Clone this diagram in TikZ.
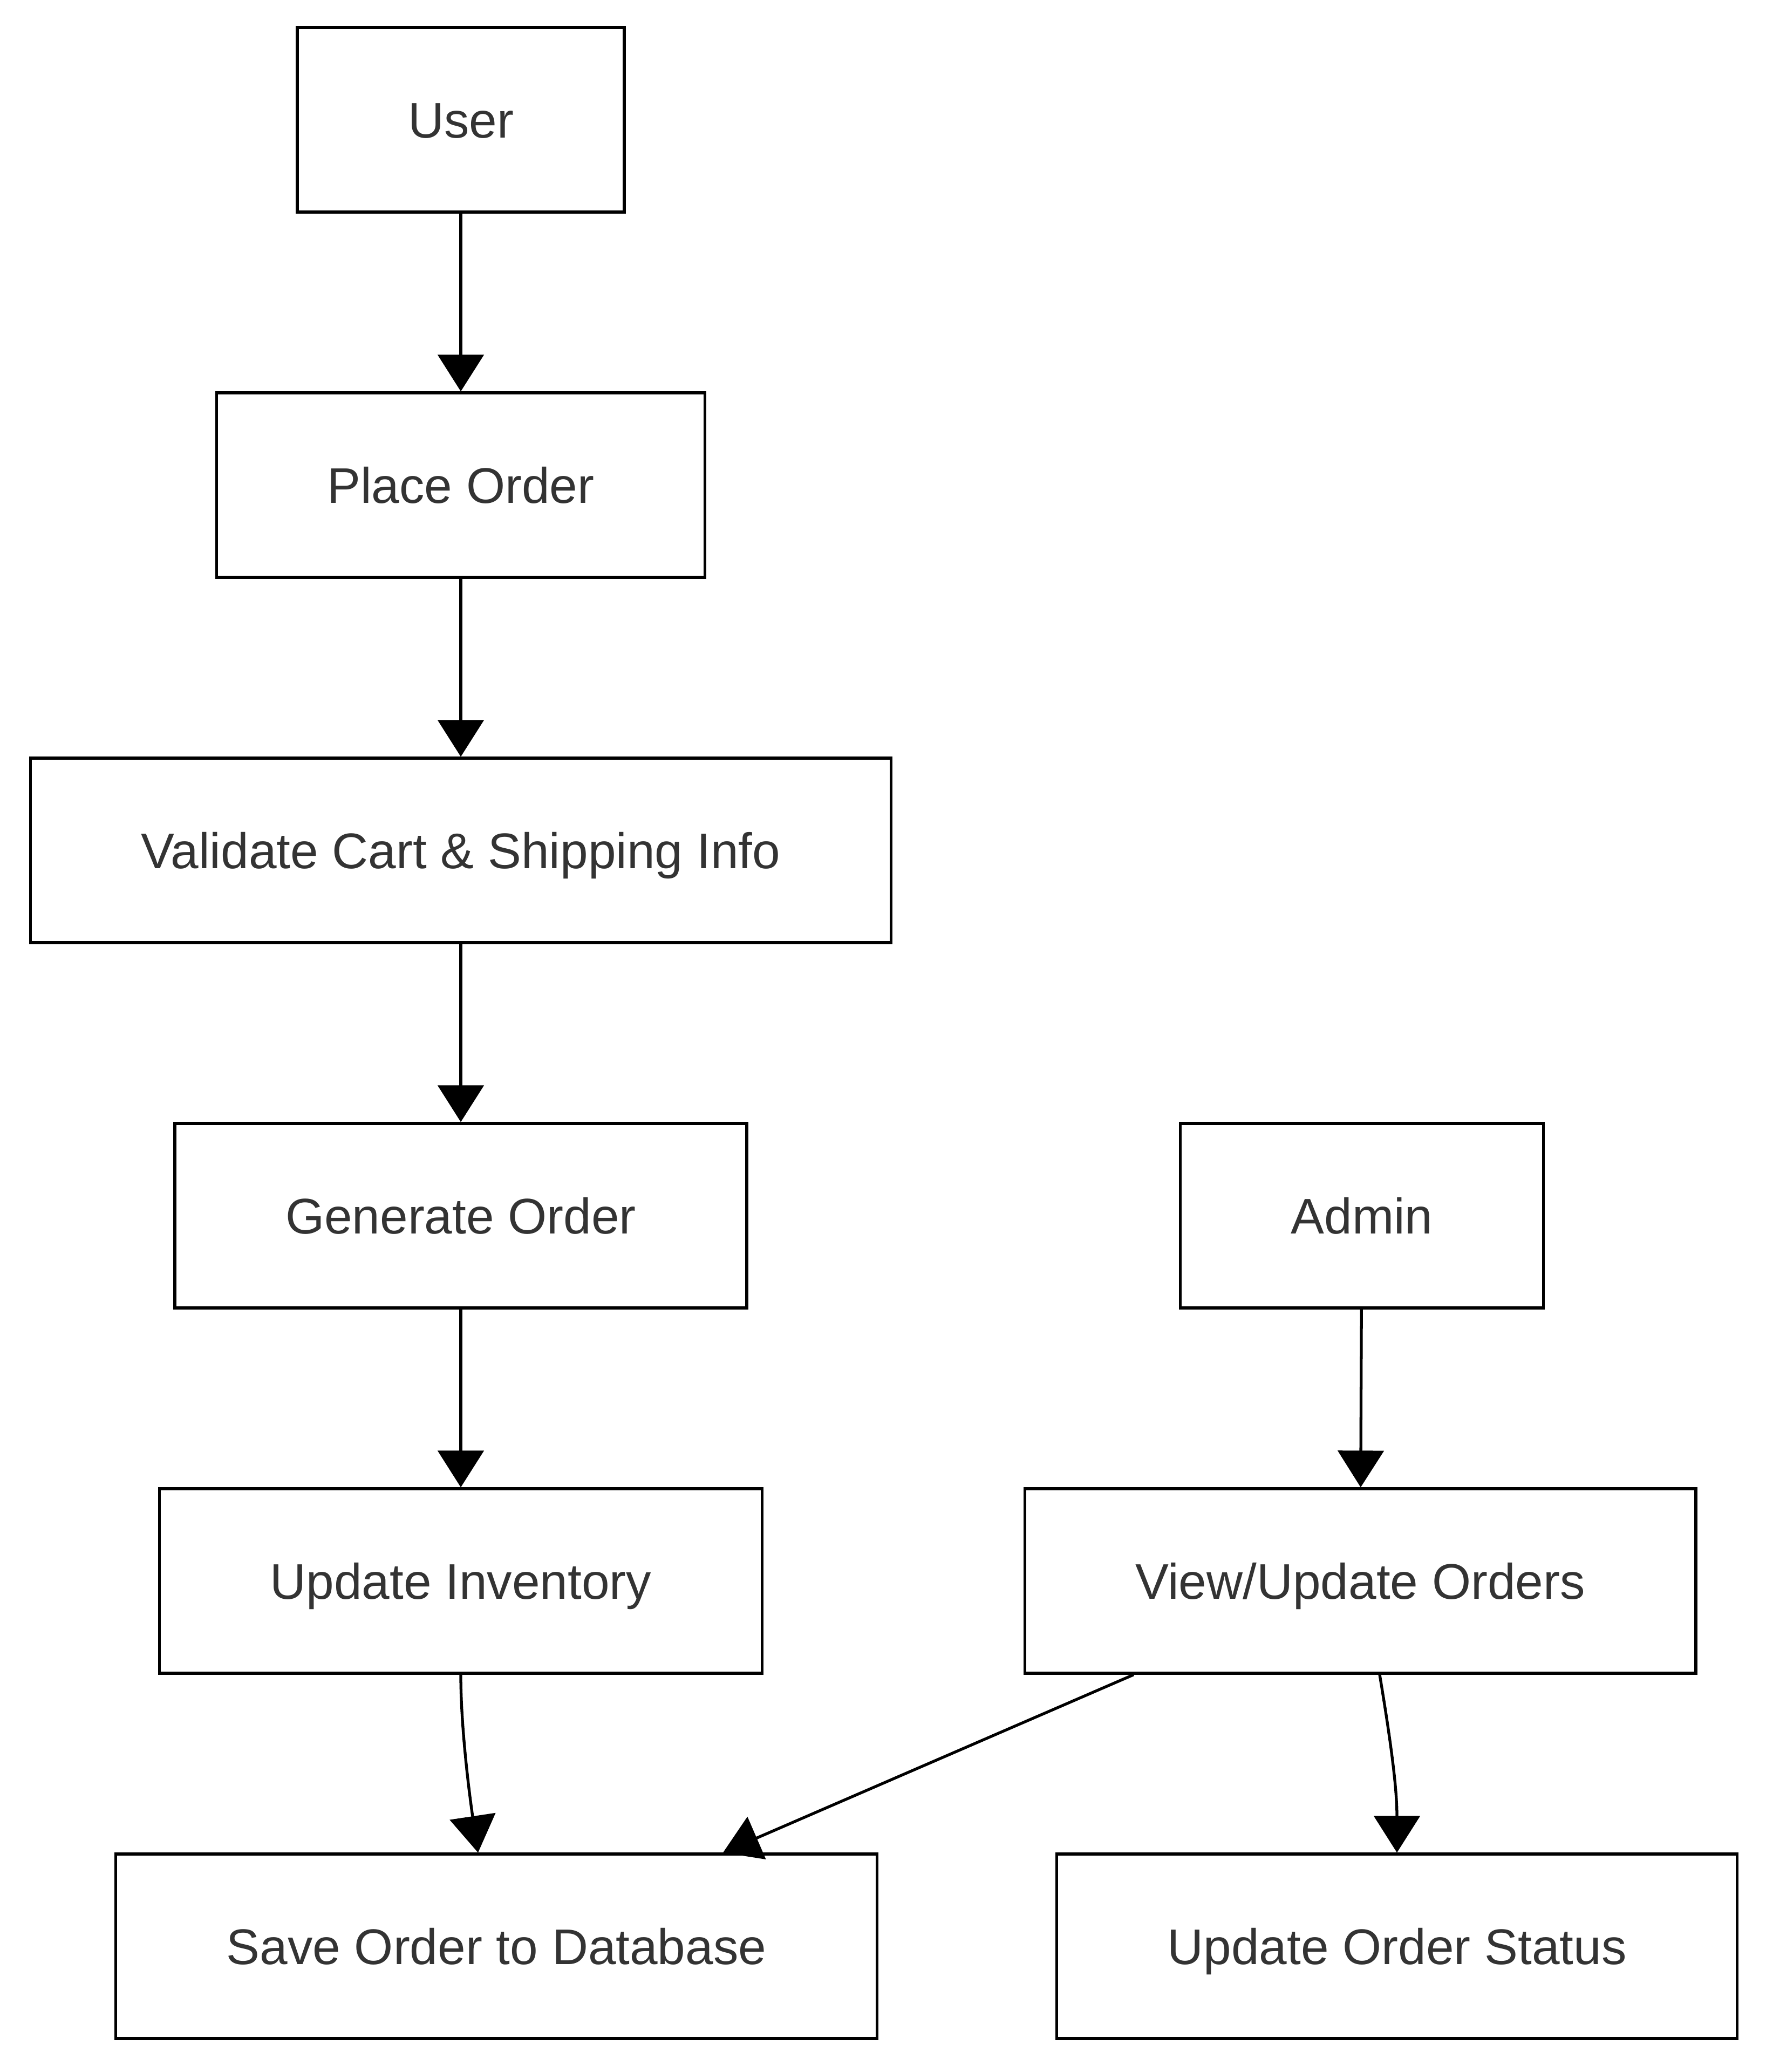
\documentclass[tikz,border=0pt]{standalone}
\usepackage{fontspec}
\setmainfont{Liberation Sans}
\usepackage{tikz}
\usetikzlibrary{calc,arrows.meta,positioning}
\definecolor{flowtext}{HTML}{333333}

\begin{document}
\begin{tikzpicture}[
  flowbox/.style={draw=black, line width=1.5pt, fill=white, text=flowtext,
    font=\fontsize{26.4}{31}\selectfont, inner xsep=2.05cm, inner ysep=0pt,
    text height=0.67cm, text depth=0cm, minimum height=3.42cm},
  flowarrow/.style={draw=black, line width=1.5pt,
    -{Triangle[length=0.68cm, width=0.85cm]}}]
  \useasboundingbox (0,0) rectangle (32.85,-38.4);
  % Order column
  \node[flowbox] (user) at (8.54,-2.22) {User};
  \node[flowbox] (placeorder) at (8.54,-8.99) {Place Order};
  \node[flowbox] (validate) at (8.54,-15.76) {Validate Cart \& Shipping Info};
  \node[flowbox] (genorder) at (8.54,-22.53) {Generate Order};
  \node[flowbox] (inventory) at (8.54,-29.30) {Update Inventory};
  \node[flowbox] (saveorder) at (9.20,-36.07) {Save Order to Database};
  % Admin column
  \node[flowbox] (admin) at (25.24,-22.53) {Admin};
  \node[flowbox] (vieworders) at (25.21,-29.30) {View/Update Orders};
  \node[flowbox] (updstatus) at (25.89,-36.07) {Update Order Status};
  % Edges
  \draw[flowarrow] (user) -- (placeorder);
  \draw[flowarrow] (placeorder) -- (validate);
  \draw[flowarrow] (validate) -- (genorder);
  \draw[flowarrow] (genorder) -- (inventory);
  \draw[flowarrow] (inventory.south) .. controls +(0,-1.1) and +(-0.12,0.8)
    .. ($(saveorder.north)+(-0.34,0)$);
  \draw[flowarrow] (admin) -- (vieworders);
  \draw[flowarrow] ($(vieworders.south)+(-4.2,0)$) -- ($(saveorder.north)+(4.2,0)$);
  \draw[flowarrow] ($(vieworders.south)+(0.36,0)$) .. controls +(0.25,-1.5) and +(0,1.1)
    .. (updstatus.north);
\end{tikzpicture}
\end{document}
